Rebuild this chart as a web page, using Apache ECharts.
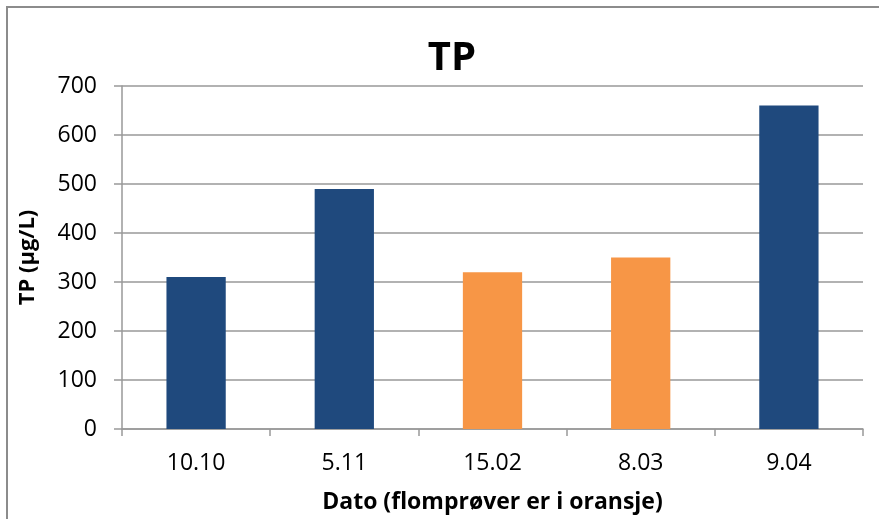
<!DOCTYPE html>
<html><head><meta charset="utf-8">
<script src="https://cdn.jsdelivr.net/npm/echarts@6/dist/echarts.min.js"></script>
<style>html,body{margin:0;padding:0;background:#fff}#c{width:879px;height:519px}</style>
</head><body><div id="c"></div>
<script>
const categories = ['10.10', '5.11', '15.02', '8.03', '9.04'];
const values = [310, 490, 320, 350, 660];
const isFlood = [false, false, true, true, false];
const yTicks = [0, 100, 200, 300, 400, 500, 600, 700];

const BLUE = '#1F497D', ORANGE = '#F79646';
const font = '"Open Sans", sans-serif';
const chart = echarts.init(document.getElementById('c'));
chart.setOption({
  animation: false,
  backgroundColor: '#fff',
  title: { text: 'TP', left: 447, top: 34, textAlign: 'center',
    textStyle: { fontSize: 40, fontWeight: 'bold', color: '#000', fontFamily: font } },
  graphic: [{ type: 'rect', shape: { x: 7, y: 7, width: 900, height: 540 },
    style: { fill: 'none', stroke: '#8c8c8c', lineWidth: 2 }, silent: true }],
  grid: { left: 122, right: 16, top: 86, bottom: 90, containLabel: false },
  xAxis: {
    type: 'category', data: categories,
    name: 'Dato (flomprøver er i oransje)', nameLocation: 'middle', nameGap: 62,
    nameTextStyle: { fontSize: 23, fontWeight: 'bold', color: '#000', fontFamily: font },
    axisLine: { lineStyle: { color: '#999', width: 1.5 } },
    axisTick: { show: true, length: 7, lineStyle: { color: '#999', width: 1.5 } },
    axisLabel: { fontSize: 23, color: '#000', margin: 23, fontFamily: font }
  },
  yAxis: {
    type: 'value', min: 0, max: 700, interval: 100,
    name: 'TP (µg/L)', nameLocation: 'middle', nameGap: 83, nameRotate: 90,
    nameTextStyle: { fontSize: 22, fontWeight: 'bold', color: '#000', fontFamily: font },
    axisLine: { show: true, lineStyle: { color: '#999', width: 1.5 } },
    axisTick: { show: true, length: 8, lineStyle: { color: '#999', width: 1.5 } },
    axisLabel: { fontSize: 23, color: '#000', margin: 25, fontFamily: font,
      formatter: v => yTicks.includes(v) ? String(v) : '' },
    splitLine: { lineStyle: { color: '#999', width: 1.5 } }
  },
  series: [{
    type: 'bar', barWidth: '40%',
    data: values.map((v, i) => ({ value: v, itemStyle: { color: isFlood[i] ? ORANGE : BLUE } }))
  }]
});
</script></body></html>
